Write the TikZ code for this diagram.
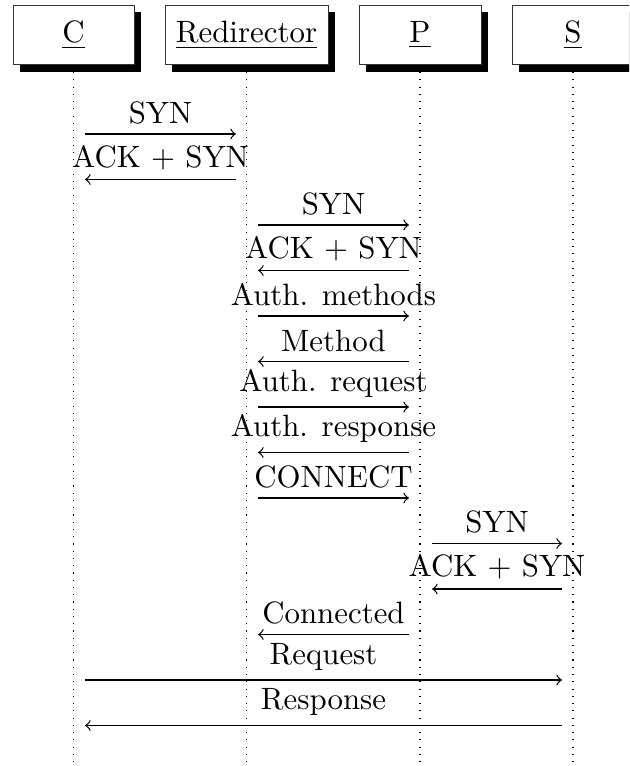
\documentclass[tikz,border=0pt]{standalone}
\usetikzlibrary{shadows}
\tikzset{
  inst/.style={draw=black!80, fill=white, line width=0.3pt, inner sep=0pt, minimum height=19.4pt,
     drop shadow={shadow xshift=2.3pt, shadow yshift=-2.3pt, opacity=1, fill=black}},
  lifeline/.style={dotted, line width=0.35pt},
  msgarrow/.style={->, line width=0.4pt}
}
\newcommand\msgline[5]{%
  \coordinate (m#5a) at (#1,#3);
  \coordinate (m#5b) at (#2,#3);
  \draw[msgarrow] (m#5a) -- node[above, inner sep=3pt] {#4} (m#5b);}
\begin{document}
\begin{tikzpicture}[x=0.324pt, y=-0.324pt]
\useasboundingbox (0,0) rectangle (629,766);
\clip (0,0) rectangle (629,766);
% lifelines
\coordinate (Ct) at (73.5,72);  \coordinate (Cb) at (73.5,766);
\coordinate (Rt) at (246.5,72); \coordinate (Rb) at (246.5,766);
\coordinate (Pt) at (420,72);   \coordinate (Pb) at (420,766);
\coordinate (St) at (573,72);   \coordinate (Sb) at (573,766);
\draw[lifeline] (Ct) -- (Cb);
\draw[lifeline] (Rt) -- (Rb);
\draw[lifeline] (Pt) -- (Pb);
\draw[lifeline] (St) -- (Sb);
% instances
\node[inst, minimum width=39.2pt] (C) at (73.5,35) {\underline{C}};
\node[inst, minimum width=52.8pt] (R) at (246.5,35) {\underline{Redirector}};
\node[inst, minimum width=39.5pt] (P) at (420,35) {\underline{P}};
\node[inst, minimum width=39.5pt] (S) at (573,35) {\underline{S}};
% messages
\msgline{85}{236}{134}{SYN}{1}
\msgline{236}{85}{179.5}{ACK + SYN}{2}
\msgline{258}{409}{225}{SYN}{3}
\msgline{409}{258}{270.5}{ACK + SYN}{4}
\msgline{258}{409}{316}{Auth. methods}{5}
\msgline{409}{258}{361.5}{Method}{6}
\msgline{258}{409}{407}{Auth. request}{7}
\msgline{409}{258}{452.5}{Auth. response}{8}
\msgline{258}{409}{498}{CONNECT}{9}
\msgline{432}{562}{543.5}{SYN}{10}
\msgline{562}{432}{589}{ACK + SYN}{11}
\msgline{409}{258}{634.5}{Connected}{12}
\msgline{85}{562}{680}{Request}{13}
\msgline{562}{85}{725.5}{Response}{14}
\end{tikzpicture}
\end{document}
